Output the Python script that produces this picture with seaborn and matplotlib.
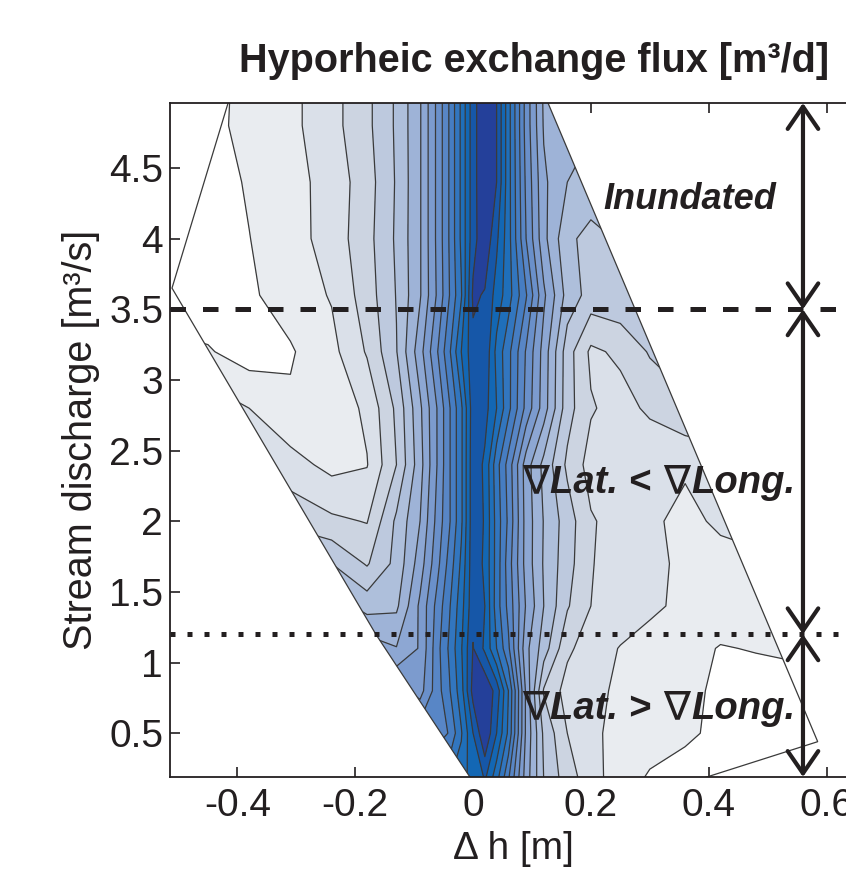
import numpy as np
import matplotlib
matplotlib.use("Agg")
import matplotlib.pyplot as plt
from matplotlib.patches import Polygon
from matplotlib.offsetbox import TextArea, HPacker, AnnotationBbox
import seaborn as sns

# grid columns: head difference Δh [m]
dh = [-0.52, -0.45, -0.38, -0.31, -0.24, -0.18, -0.13, -0.09, -0.06, -0.04, -0.02, 0.0, 0.02,
      0.04, 0.06, 0.09, 0.12, 0.16, 0.2, 0.25, 0.3, 0.36, 0.42, 0.48, 0.54, 0.6]
# grid rows: stream discharge [m3/s]
discharge = [0.15, 0.5, 0.8, 1.1, 1.4, 1.7, 2.0, 2.4, 2.8, 3.2, 3.6, 4.0, 4.4, 4.8, 5.1]

# hyporheic exchange flux, in contour-level units, one list per discharge row
flux_q015 = [13, 13, 13, 13, 13, 13, 13, 13, 13, 13, 13.5, 14.5, 15.0, 13.2, 11.0, 7.5, 5.0, 3.5,
             2.5, 1.35, 0.85, 0.6, 0.5, 0.5, 0.5, 0.5]
flux_q050 = [12, 12, 12, 11.8, 11.5, 11.2, 10.9, 10.6, 10.4, 11.1, 12.9, 15.0, 16.9, 15.0, 12.8, 7.8,
             4.8, 3.0, 2.2, 1.7, 1.4, 1.15, 0.8, 0.5, 0.4, 0.4]
flux_q080 = [11, 11, 10.8, 10.5, 10.2, 9.8, 9.3, 8.6, 10.6, 11.9, 13.6, 16.4, 16.9, 15.6, 13.0, 7.8,
             3.9, 2.6, 2.3, 1.8, 1.5, 1.2, 0.85, 0.6, 0.5, 0.5]
flux_q110 = [9.0, 9.0, 8.8, 8.5, 8.0, 7.6, 7.05, 8.1, 10.7, 12.2, 13.9, 16.05, 14.8, 13.0, 11.2, 7.3,
             5.5, 3.2, 2.5, 1.95, 1.5, 1.3, 0.95, 1.05, 1.2, 1.2]
flux_q140 = [7.5, 7.5, 7.2, 7.0, 6.6, 5.6, 5.8, 8.2, 10.4, 11.9, 13.6, 15.7, 15.0, 12.5, 10.7, 7.9,
             6.0, 4.1, 3.0, 2.6, 2.25, 1.7, 1.5, 1.45, 1.5, 1.5]
flux_q170 = [6.0, 6.0, 5.8, 5.5, 5.0, 3.9, 5.3, 7.5, 9.75, 11.4, 13.2, 15.7, 14.8, 12.6, 10.5, 7.6,
             5.9, 4.4, 3.05, 2.6, 2.25, 1.8, 1.6, 1.7, 1.7, 1.7]
flux_q200 = [4.5, 4.3, 4.0, 3.7, 3.2, 2.95, 5.2, 7.0, 9.4, 10.9, 12.8, 15.7, 14.9, 12.6, 10.8, 7.6,
             5.95, 4.5, 3.1, 2.6, 2.2, 1.7, 2.2, 2.5, 2.5, 2.5]
flux_q240 = [3.5, 3.3, 3.0, 2.4, 1.7, 1.95, 4.0, 6.6, 9.1, 10.9, 12.8, 15.7, 14.8, 12.4, 10.6, 7.5,
             5.7, 3.8, 2.6, 2.3, 2.15, 2.15, 2.4, 2.5, 2.5, 2.5]
flux_q280 = [3.0, 2.6, 2.0, 1.15, 1.35, 2.2, 4.2, 6.8, 9.1, 10.9, 12.8, 15.6, 15.4, 14.0, 12.3, 9.7,
             7.5, 4.4, 3.1, 2.6, 3.2, 3.8, 4.0, 4.0, 4.0, 4.0]
flux_q320 = [1.5, 1.1, 0.5, 0.9, 1.7, 3.1, 4.95, 7.6, 10.0, 11.85, 14.0, 15.7, 15.8, 13.7, 12.3, 9.9,
             7.6, 4.45, 2.8, 3.2, 4.1, 4.5, 4.5, 4.5, 4.5, 4.5]
flux_q360 = [0.0, 0.3, 0.85, 1.44, 2.08, 3.5, 5.05, 6.9, 9.2, 11.0, 12.9, 16.2, 15.9, 14.6, 13.45, 11.1,
             8.2, 5.6, 4.6, 4.8, 5.2, 5.2, 5.2, 5.2, 5.2, 5.2]
flux_q400 = [0.0, 0.4, 0.98, 1.57, 2.43, 3.65, 5.15, 6.9, 9.3, 11.1, 13.2, 15.6, 16.8, 15.2, 13.4, 10.0,
             7.3, 5.2, 4.7, 5.1, 5.3, 5.3, 5.3, 5.3, 5.3, 5.3]
flux_q440 = [0.1, 0.55, 1.1, 1.63, 2.4, 3.55, 5.1, 6.9, 9.3, 11.1, 13.2, 15.6, 16.9, 16.0, 13.4, 9.8,
             7.2, 6.0, 5.6, 5.5, 5.5, 5.5, 5.5, 5.5, 5.5, 5.5]
flux_q480 = [0.2, 0.75, 1.25, 1.74, 2.65, 3.75, 5.15, 6.9, 9.3, 11.1, 13.2, 15.6, 16.9, 16.0, 13.4, 9.6,
             6.9, 6.4, 6.1, 6.0, 6.0, 6.0, 6.0, 6.0, 6.0, 6.0]
flux_q510 = [0.3, 0.7, 1.25, 1.74, 2.65, 3.75, 5.15, 6.9, 9.3, 11.1, 13.2, 15.6, 16.9, 16.0, 13.4, 9.6,
             6.8, 6.3, 6.0, 6.0, 6.0, 6.0, 6.0, 6.0, 6.0, 6.0]

# outline of the simulated domain (Δh, discharge)
domain_dh = [-0.402, -0.511, -0.165, 0.012, 0.314, 0.585, 0.108]
domain_q = [5.15, 3.65, 1.2, 0.08, 0.08, 0.44, 5.15]

# regime boundaries [m3/s] and axis range
q_inundated = 3.5
q_lat_long = 1.2
q_top = 4.96
q_bottom = 0.19
arrow_dh = 0.56

x_ticks = [-0.4, -0.2, 0.0, 0.2, 0.4, 0.6]
x_ticklabels = ["-0.4", "-0.2", "0", "0.2", "0.4", "0.6"]
y_ticks = [0.5, 1.0, 1.5, 2.0, 2.5, 3.0, 3.5, 4.0, 4.5]
y_ticklabels = ["0.5", "1", "1.5", "2", "2.5", "3", "3.5", "4", "4.5"]

levels = list(range(1, 18))
band_colors = ["#e9ecf0", "#dae0e9", "#ccd4e1", "#bdc9de", "#aebfdb", "#9eb3d7", "#8da7d3",
               "#7c9bce", "#6a90ca", "#5886c6", "#467dc2", "#3276bf", "#1f6fba", "#1367b4",
               "#1657a8", "#24409a"]

sns.set_theme(style="ticks", rc={"axes.linewidth": 1.3, "axes.edgecolor": "#231f20"})
plt.rcParams["font.family"] = ["Liberation Sans", "DejaVu Sans"]
ink = "#231f20"

flux = np.array([flux_q015, flux_q050, flux_q080, flux_q110, flux_q140, flux_q170, flux_q200,
                 flux_q240, flux_q280, flux_q320, flux_q360, flux_q400, flux_q440, flux_q480,
                 flux_q510])
DH, Q = np.meshgrid(dh, discharge)

fig = plt.figure(figsize=(8.46, 8.82), dpi=100)
ax = fig.add_axes([170 / 846, 105 / 882, 686 / 846, 674 / 882])

palette = sns.color_palette(band_colors)
filled = ax.contourf(DH, Q, flux, levels=levels, colors=palette, zorder=1)
lines = ax.contour(DH, Q, flux, levels=levels[:-1], colors="#3a3a3a", linewidths=0.9, zorder=2)

outline = np.column_stack([domain_dh, domain_q])
clip = Polygon(outline, closed=True, transform=ax.transData, facecolor="none")
filled.set_clip_path(clip)
lines.set_clip_path(clip)
ax.add_patch(Polygon(outline, closed=True, fill=False, edgecolor="#3a3a3a", lw=0.9, zorder=3))

# regime separators
ax.axhline(q_inundated, color=ink, lw=3.6, ls=(0, (3.1, 3.4)), dash_capstyle="butt", zorder=4)
ax.axhline(q_lat_long, color=ink, lw=3.6, ls=(0, (1.0, 2.4)), dash_capstyle="butt", zorder=4)

for lo, hi in [(q_inundated, q_top), (q_lat_long, q_inundated), (q_bottom, q_lat_long)]:
    ax.annotate("", xy=(arrow_dh, hi), xytext=(arrow_dh, lo), annotation_clip=False,
                arrowprops=dict(arrowstyle="<->,head_length=0.8,head_width=0.55", lw=3,
                                color=ink, shrinkA=0, shrinkB=0, mutation_scale=20), zorder=5)

ax.text(0.368, 4.275, "Inundated", fontsize=26, fontweight="bold", style="italic",
        ha="center", va="center", color=ink, zorder=6)


def regime_label(parts, y):
    kids = []
    for s in parts:
        if s == "∇":
            props = dict(family="DejaVu Sans", fontsize=29, color=ink)
        else:
            props = dict(fontsize=27.5, fontweight="bold", style="italic", color=ink)
        kids.append(TextArea(s, textprops=props))
    box = HPacker(children=kids, align="baseline", pad=0, sep=1)
    ab = AnnotationBbox(box, (0.083, y), xycoords="data", box_alignment=(0, 0.5),
                        frameon=False, zorder=6)
    ax.add_artist(ab)


regime_label(["∇", "Lat. < ", "∇", "Long."], 2.278)
regime_label(["∇", "Lat. > ", "∇", "Long."], 0.677)

ax.set_xlim(-0.5144, 0.65)
ax.set_ylim(q_bottom, q_top)
ax.set_xticks(x_ticks)
ax.set_xticklabels(x_ticklabels)
ax.set_yticks(y_ticks)
ax.set_yticklabels(y_ticklabels)
ax.tick_params(direction="in", length=7, width=1.2, top=True, right=True, labelsize=28,
               pad=5, colors=ink)
ax.tick_params(axis="x", pad=8)
for sp in ax.spines.values():
    sp.set_visible(True)
    sp.set_zorder(7)

ax.set_xlabel("Δ h [m]", fontsize=28, color=ink)
ax.xaxis.set_label_coords(0.5, -0.08)
ax.set_ylabel("Stream discharge [m³/s]", fontsize=28.5, color=ink)
ax.yaxis.set_label_coords(-0.102, 0.5)

fig.text(534 / 846, 1 - 61 / 882, "Hyporheic exchange flux [m³/d]", fontsize=28.5,
         fontweight="bold", ha="center", va="center", color=ink)

fig.savefig("out.png", dpi=100)
